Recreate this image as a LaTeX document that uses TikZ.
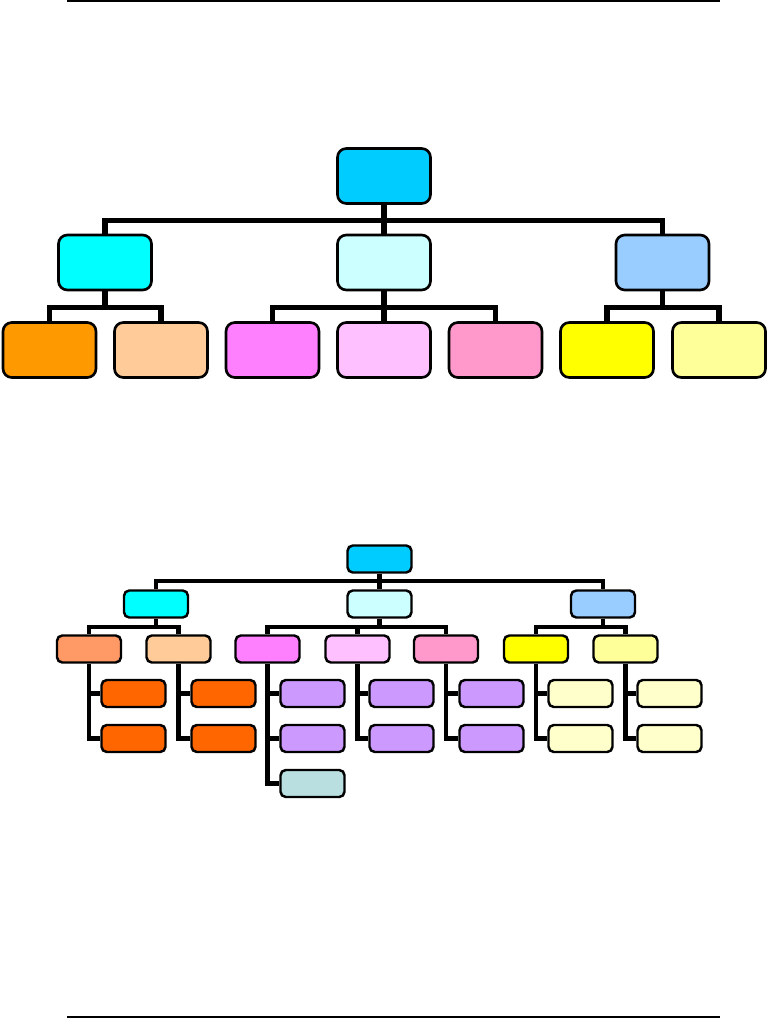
\documentclass[tikz,border=0pt]{standalone}
\usepackage{tikz}
\usetikzlibrary{positioning}

\definecolor{rootblue}{HTML}{00CCFF}
\definecolor{aqua}{HTML}{00FFFF}
\definecolor{paleaqua}{HTML}{CCFFFF}
\definecolor{skyblue}{HTML}{99CCFF}
\definecolor{amber}{HTML}{FF9900}
\definecolor{salmon}{HTML}{FF9966}
\definecolor{peach}{HTML}{FFCC99}
\definecolor{magenta}{HTML}{FF80FF}
\definecolor{lilac}{HTML}{FFC0FF}
\definecolor{rose}{HTML}{FF99CC}
\definecolor{lemon}{HTML}{FFFF00}
\definecolor{paleyellow}{HTML}{FFFF99}
\definecolor{deeporange}{HTML}{FF6600}
\definecolor{lavender}{HTML}{CC99FF}
\definecolor{greyblue}{HTML}{B9DFE0}
\definecolor{cream}{HTML}{FFFFCC}

\begin{document}
\begin{tikzpicture}[
    x=0.02cm,
    y=-0.02cm,
    bigbox/.style={
        rectangle,
        draw=black,
        line width=1.5pt,
        rounded corners=5pt,
        minimum width=1.86cm,
        minimum height=1.1cm,
        inner sep=0pt
    },
    smallbox/.style={
        rectangle,
        draw=black,
        line width=1.4pt,
        rounded corners=3pt,
        minimum width=1.28cm,
        minimum height=0.54cm,
        inner sep=0pt
    },
    bigline/.style={draw=black, line width=3pt},
    smallline/.style={draw=black, line width=2.4pt},
    rule/.style={draw=black, line width=1.3pt}
]
    \useasboundingbox (0,0) rectangle (768,1020);

    % page rules
    \path [rule] (67,1) -- (720,1);
    \path [rule] (67,1017) -- (720,1017);

    % upper chart
    \node [bigbox, fill=rootblue] (top) at (384,176) {};
    \node [bigbox, fill=aqua] (tleft) at (105,262.5) {};
    \node [bigbox, fill=paleaqua] (tmid) at (384,262.5) {};
    \node [bigbox, fill=skyblue] (tright) at (662.5,262.5) {};

    \node [bigbox, fill=amber] (tl1) at (49.5,350) {};
    \node [bigbox, fill=peach] (tl2) at (161,350) {};
    \node [bigbox, fill=magenta] (tm1) at (272.5,350) {};
    \node [bigbox, fill=lilac] (tm2) at (384,350) {};
    \node [bigbox, fill=rose] (tm3) at (495.5,350) {};
    \node [bigbox, fill=lemon] (tr1) at (607,350) {};
    \node [bigbox, fill=paleyellow] (tr2) at (719,350) {};

    \path [bigline] (top.south) -- ++(0,16) -| (tleft.north);
    \path [bigline] (top.south) -- (tmid.north);
    \path [bigline] (top.south) -- ++(0,16) -| (tright.north);

    \path [bigline] (tleft.south) -- ++(0,16) -| (tl1.north);
    \path [bigline] (tleft.south) -- ++(0,16) -| (tl2.north);
    \path [bigline] (tmid.south) -- ++(0,16) -| (tm1.north);
    \path [bigline] (tmid.south) -- (tm2.north);
    \path [bigline] (tmid.south) -- ++(0,16) -| (tm3.north);
    \path [bigline] (tright.south) -- ++(0,16) -| (tr1.north);
    \path [bigline] (tright.south) -- ++(0,16) -| (tr2.north);

    % lower chart
    \node [smallbox, fill=rootblue] (bot) at (379.5,559) {};
    \node [smallbox, fill=aqua] (bleft) at (156,604) {};
    \node [smallbox, fill=paleaqua] (bmid) at (379.5,604) {};
    \node [smallbox, fill=skyblue] (bright) at (603,604) {};

    \node [smallbox, fill=salmon] (bl1) at (89,649) {};
    \node [smallbox, fill=peach] (bl2) at (178.5,649) {};
    \node [smallbox, fill=magenta] (bm1) at (267.5,649) {};
    \node [smallbox, fill=lilac] (bm2) at (357.5,649) {};
    \node [smallbox, fill=rose] (bm3) at (446,649) {};
    \node [smallbox, fill=lemon] (br1) at (536,649) {};
    \node [smallbox, fill=paleyellow] (br2) at (625.5,649) {};

    \node [smallbox, fill=deeporange] (bl1a) at (133.5,693.5) {};
    \node [smallbox, fill=deeporange] (bl1b) at (133.5,738.5) {};
    \node [smallbox, fill=deeporange] (bl2a) at (223.5,693.5) {};
    \node [smallbox, fill=deeporange] (bl2b) at (223.5,738.5) {};
    \node [smallbox, fill=lavender] (bm1a) at (312.5,693.5) {};
    \node [smallbox, fill=lavender] (bm1b) at (312.5,738.5) {};
    \node [smallbox, fill=greyblue] (bm1c) at (312.5,783.5) {};
    \node [smallbox, fill=lavender] (bm2a) at (401.5,693.5) {};
    \node [smallbox, fill=lavender] (bm2b) at (401.5,738.5) {};
    \node [smallbox, fill=lavender] (bm3a) at (491.5,693.5) {};
    \node [smallbox, fill=lavender] (bm3b) at (491.5,738.5) {};
    \node [smallbox, fill=cream] (br1a) at (580.5,693.5) {};
    \node [smallbox, fill=cream] (br1b) at (580.5,738.5) {};
    \node [smallbox, fill=cream] (br2a) at (669.5,693.5) {};
    \node [smallbox, fill=cream] (br2b) at (669.5,738.5) {};

    \path [smallline] (bot.south) -- ++(0,7) -| (bleft.north);
    \path [smallline] (bot.south) -- (bmid.north);
    \path [smallline] (bot.south) -- ++(0,7) -| (bright.north);

    \path [smallline] (bleft.south) -- ++(0,8) -| (bl1.north);
    \path [smallline] (bleft.south) -- ++(0,8) -| (bl2.north);
    \path [smallline] (bmid.south) -- ++(0,8) -| (bm1.north);
    \path [smallline] (bmid.south) -- ++(0,8) -| (bm2.north);
    \path [smallline] (bmid.south) -- ++(0,8) -| (bm3.north);
    \path [smallline] (bright.south) -- ++(0,8) -| (br1.north);
    \path [smallline] (bright.south) -- ++(0,8) -| (br2.north);

    \path [smallline] (bl1.south) |- (bl1a.west);
    \path [smallline] (bl1.south) |- (bl1b.west);
    \path [smallline] (bl2.south) |- (bl2a.west);
    \path [smallline] (bl2.south) |- (bl2b.west);
    \path [smallline] (bm1.south) |- (bm1a.west);
    \path [smallline] (bm1.south) |- (bm1b.west);
    \path [smallline] (bm1.south) |- (bm1c.west);
    \path [smallline] (bm2.south) |- (bm2a.west);
    \path [smallline] (bm2.south) |- (bm2b.west);
    \path [smallline] (bm3.south) |- (bm3a.west);
    \path [smallline] (bm3.south) |- (bm3b.west);
    \path [smallline] (br1.south) |- (br1a.west);
    \path [smallline] (br1.south) |- (br1b.west);
    \path [smallline] (br2.south) |- (br2a.west);
    \path [smallline] (br2.south) |- (br2b.west);
\end{tikzpicture}
\end{document}
